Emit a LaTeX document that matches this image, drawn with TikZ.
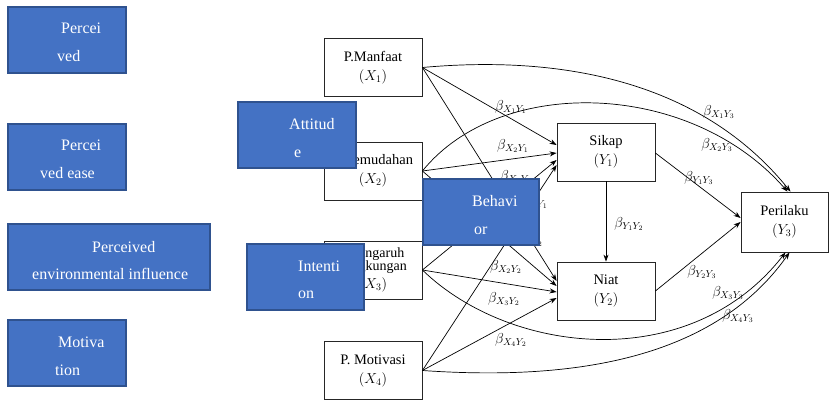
\documentclass[tikz,border=0pt]{standalone}
\usepackage{fontspec}
\setmainfont{Liberation Serif}
\usetikzlibrary{arrows.meta}
\definecolor{enfill}{HTML}{4472C4}
\definecolor{enline}{HTML}{2F528F}

\begin{document}
\begin{tikzpicture}[x=1pt,y=-1pt,
  var/.style={rectangle, draw=black!85, line width=0.8pt, fill=white, minimum width=98pt, minimum height=58pt, inner sep=0pt, align=center, font=\fontsize{14.5}{19}\selectfont},
  link/.style={-{Stealth[length=7pt,width=5pt]}, line width=0.7pt},
  coef/.style={inner sep=0pt, font=\fontsize{14}{14}\selectfont},
  enbox/.style={rectangle, fill=enfill, draw=enline, line width=2pt, minimum height=66pt, inner sep=0pt},
  entext/.style={anchor=base west, inner sep=0pt, text=white, font=\fontsize{16}{16}\selectfont}]
\useasboundingbox (0,0) rectangle (829,401);

\node[var] (manfaat) at (373,67.5) {P.Manfaat\\$(X_1)$};
\node[var] (kemudahan) at (373,171) {P.Kemudahan\\$(X_2)$};
\node[var, font=\fontsize{14}{18}\selectfont] (lingkungan) at (373,270) {P.Pengaruh\\[-5pt]Lingkungan\\$(X_3)$};
\node[var] (motivasi) at (373,370.5) {P. Motivasi\\$(X_4)$};
\node[var] (sikap) at (606,152) {Sikap\\$(Y_1)$};
\node[var] (niat) at (606,291) {Niat\\$(Y_2)$};
\node[var, minimum width=87pt, minimum height=60pt] (perilaku) at (784.5,222) {Perilaku\\$(Y_3)$};

\draw[link] (manfaat.east) -- ([yshift=7pt]sikap.west);
\draw[link] (kemudahan.east) -- ([yshift=-1pt]sikap.west);
\draw[link] (lingkungan.east) -- ([yshift=-8pt]sikap.west);
\draw[link] (motivasi.east) -- ([yshift=-13pt]sikap.west);
\draw[link] (manfaat.east) -- ([yshift=10pt]niat.west);
\draw[link] (kemudahan.east) -- ([yshift=5pt]niat.west);
\draw[link] (lingkungan.east) -- ([yshift=-1pt]niat.west);
\draw[link] (motivasi.east) -- ([yshift=-7pt]niat.west);
\draw[link] (manfaat.east) .. controls (560,55) and (700,80) .. ([xshift=6pt]perilaku.north);
\draw[link] (kemudahan.east) .. controls (500,75) and (690,80) .. ([xshift=3pt]perilaku.north);
\draw[link] (lingkungan.east) .. controls (510,355) and (690,375) .. ([xshift=1pt]perilaku.south);
\draw[link] (motivasi.east) .. controls (560,380) and (710,365) .. ([xshift=5pt]perilaku.south);
\draw[link] ([yshift=-1pt]sikap.east) -- ([yshift=4pt]perilaku.west);
\draw[link] (niat.east) -- (perilaku.west);
\draw[link] (sikap.south) -- (niat.north);

\node[coef] (b11) at (511,107) {$\beta_{X_1Y_1}$};
\node[coef] (b21) at (513,146) {$\beta_{X_2Y_1}$};
\node[coef] (b31) at (516,177) {$\beta_{X_3Y_1}$};
\node[coef] (b41) at (532,202) {$\beta_{X_4Y_1}$};
\node[coef] (b12) at (527,240) {$\beta_{X_1Y_2}$};
\node[coef] (b22) at (506,267) {$\beta_{X_2Y_2}$};
\node[coef] (b32) at (504,299) {$\beta_{X_3Y_2}$};
\node[coef] (b42) at (511,340) {$\beta_{X_4Y_2}$};
\node[coef] (bsn) at (629,224) {$\beta_{Y_1Y_2}$};
\node[coef] (bsp) at (699,178) {$\beta_{Y_1Y_3}$};
\node[coef] (bnp) at (702,272) {$\beta_{Y_2Y_3}$};
\node[coef] (b13) at (719,112) {$\beta_{X_1Y_3}$};
\node[coef] (b23) at (717,145) {$\beta_{X_2Y_3}$};
\node[coef] (b33) at (728,293) {$\beta_{X_3Y_3}$};
\node[coef] (b43) at (738,316) {$\beta_{X_4Y_3}$};

\node[enbox, minimum width=118pt] (perceived) at (67,40) {};
\node[entext] (perceived-a) at (61,34) {Percei};
\node[entext] (perceived-b) at (57,62) {ved};
\node[enbox, minimum width=118pt] (ease) at (67,157) {};
\node[entext] (ease-a) at (61,150) {Percei};
\node[entext] (ease-b) at (40,178) {ved ease};
\node[enbox, minimum width=202pt] (envinf) at (109,257) {};
\node[entext] (envinf-a) at (92,252) {Perceived};
\node[entext] (envinf-b) at (32,279) {environmental influence};
\node[enbox, minimum width=118pt] (motiv) at (67,353) {};
\node[entext] (motiv-a) at (58,347) {Motiva};
\node[entext] (motiv-b) at (55,375) {tion};
\node[enbox, minimum width=118pt] (attitude) at (297,135) {};
\node[entext] (attitude-a) at (289,129) {Attitud};
\node[entext] (attitude-b) at (294,157) {e};
\node[enbox, minimum width=117pt] (intention) at (305.5,276.5) {};
\node[entext] (intention-a) at (298,271) {Intenti};
\node[entext] (intention-b) at (298,298) {on};
\node[enbox, minimum width=116pt] (behavior) at (481,212) {};
\node[entext] (behavior-a) at (472,206) {Behavi};
\node[entext] (behavior-b) at (474,234) {or};
\end{tikzpicture}
\end{document}
